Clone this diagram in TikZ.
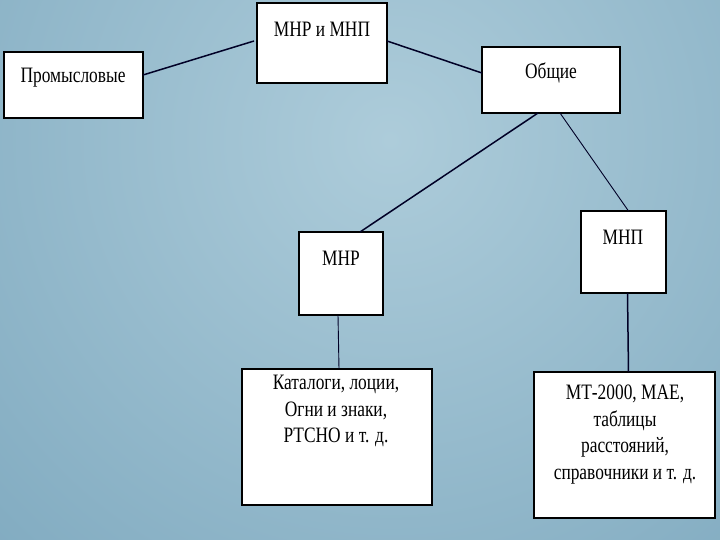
\documentclass[tikz,border=0pt]{standalone}
\usepackage{fontspec}
\setmainfont{Liberation Serif}[FakeStretch=0.79]
\begin{document}
\begin{tikzpicture}[x=1pt,y=-1pt,
  box/.style={draw=black, fill=white, line width=1.7pt, anchor=north west, inner sep=0pt, outer sep=0pt},
  txt/.style={anchor=center, font=\fontsize{22}{26.5}\selectfont, align=center, inner sep=0pt},
  thick link/.style={draw=black!85!blue, line width=1.5pt},
  thin link/.style={draw=black!85!blue, line width=0.9pt}]
\definecolor{bgin}{HTML}{ADCCDA}
\definecolor{bgout}{HTML}{6193AE}
\useasboundingbox (0,0) rectangle (720,540);
\begin{scope}
  \clip (0,0) rectangle (720,540);
  \shade[inner color=bgin, outer color=bgout] (390,140) circle (1000pt);
\end{scope}
% boxes
\node[box, minimum width=130pt, minimum height=80pt] (mm) at (257,3) {};
\node[box, minimum width=139pt, minimum height=66pt] (prom) at (4,52) {};
\node[box, minimum width=138pt, minimum height=66pt] (ob) at (482,47) {};
\node[box, minimum width=84pt, minimum height=83pt] (mnr) at (299,232) {};
\node[box, minimum width=85pt, minimum height=82pt] (mnp) at (581,211) {};
\node[box, minimum width=190pt, minimum height=136pt] (kat) at (242,369) {};
\node[box, minimum width=181pt, minimum height=146pt] (mt) at (534,372) {};
% texts
\node[txt] (mmt) at (322,29) {МНР и МНП};
\node[txt] (promt) at (73,78) {Промысловые};
\node[txt] (obt) at (551,73) {Общие};
\node[txt] (mnrt) at (341,258) {МНР};
\node[txt] (mnpt) at (623,237) {МНП};
\node[txt, anchor=north] (katt) at (336,375) {Каталоги, лоции,\\Огни и знаки,\\РТСНО и т. д.};
\node[txt, anchor=north] (mtt) at (625,385) {МТ-2000, МАЕ,\\таблицы\\расстояний,\\справочники и т. д.};
% connectors
\draw[thick link] ([yshift=10pt]prom.east) -- ([xshift=-3pt,yshift=2pt]mm.west);
\draw[thick link] ([yshift=2pt]mm.east) -- ([yshift=7pt]ob.west);
\draw[thick link] ([xshift=-13pt]ob.south) -- ([xshift=19pt]mnr.north);
\draw[thin link] ([xshift=9pt]ob.south) -- ([xshift=5pt]mnp.north);
\draw[thin link] ([xshift=-3pt]mnr.south) -- ([xshift=2pt]kat.north);
\draw[thick link] ([xshift=4pt]mnp.south) -- ([xshift=4pt]mt.north);
\end{tikzpicture}
\end{document}
